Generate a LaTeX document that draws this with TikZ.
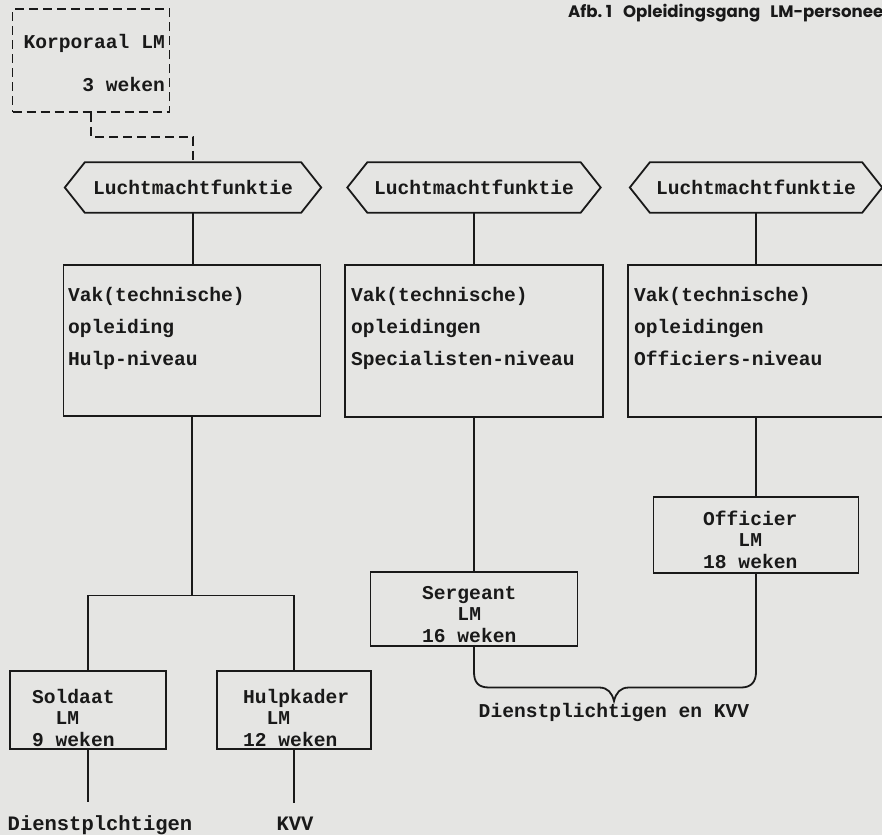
\documentclass[tikz,border=0pt]{standalone}
\usepackage{fontspec}
\newfontfamily\twfamily{Liberation Mono}
\newfontfamily\titlefamily{Poppins}
\usetikzlibrary{calc}
\definecolor{paper}{RGB}{229,229,227}
\definecolor{ink}{RGB}{25,25,25}
\begin{document}
\begin{tikzpicture}[x=1pt,y=-1pt,
  tw/.style={font=\twfamily\bfseries\fontsize{19.6}{32}\selectfont, inner sep=0pt, text=ink},
  tws/.style={font=\twfamily\bfseries\fontsize{19.6}{21.5}\selectfont, inner sep=0pt, text=ink, align=left, anchor=north west},
  twl/.style={font=\twfamily\bfseries\fontsize{20.5}{24}\selectfont, inner xsep=0pt, text=ink, anchor=base},
  frame/.style={draw=ink, line width=1.8pt, inner sep=0pt},
  conn/.style={draw=ink, line width=1.8pt},
  dashline/.style={dash pattern=on 9pt off 5pt},
  hexcore/.style={tw, minimum height=50},
]
\fill[paper] (0,0) rectangle (882,835);
\useasboundingbox (0,0) rectangle (882,835);

% title
\node[anchor=base west, inner sep=0pt, text=ink,
      font=\titlefamily\bfseries\fontsize{16.6}{20}\selectfont] (title) at (568,17)
  {Afb.~1\hspace{11pt}Opleidingsgang\hspace{10pt}LM-personee};

% Korporaal
\node[frame, dashline, minimum width=157, minimum height=103] (kbox) at (91,60.5) {};
\node[tw, align=right, anchor=north east] (ktext) at (165,34) {Korporaal LM\\[11pt]3 weken};

% hexagons
\node[hexcore, minimum width=216] (h1) at (193,187.5) {Luchtmachtfunktie};
\node[hexcore, minimum width=213] (h2) at (474,187.5) {Luchtmachtfunktie};
\node[hexcore, minimum width=212] (h3) at (756,187.5) {Luchtmachtfunktie};
\foreach \h in {h1,h2,h3}
  \draw[conn, line join=miter] (\h.north west) -- (\h.north east) -- ([xshift=20pt]\h.east)
     -- (\h.south east) -- (\h.south west) -- ([xshift=-20pt]\h.west) -- cycle;

% Vak boxes
\node[frame, minimum width=257, minimum height=151] (v1) at (192,340.5) {};
\node[frame, minimum width=258, minimum height=152] (v2) at (474,341) {};
\node[frame, minimum width=272, minimum height=152] (v3) at (764,341) {};
\node[tw, align=left, anchor=north west] (v1t) at (68,287) {Vak(technische)\\opleiding\\Hulp-niveau};
\node[tw, align=left, anchor=north west] (v2t) at (351,287) {Vak(technische)\\opleidingen\\Specialisten-niveau};
\node[tw, align=left, anchor=north west] (v3t) at (634,287) {Vak(technische)\\opleidingen\\Officiers-niveau};

% small boxes
\node[frame, minimum width=156, minimum height=78] (s1) at (88,710) {};
\node[frame, minimum width=154, minimum height=78] (s2) at (294,710) {};
\node[frame, minimum width=207, minimum height=74] (g) at (474,609) {};
\node[frame, minimum width=205, minimum height=76] (o) at (756,535) {};
\node[tws] (s1t) at (32,689) {Soldaat\\\phantom{xx}LM\\9 weken};
\node[tws] (s2t) at (243,689) {Hulpkader\\\phantom{xx}LM\\12 weken};
\node[tws] (gt) at (422,585.7) {Sergeant\\\phantom{xxx}LM\\16 weken};
\node[tws] (ot) at (703,510.7) {Officier\\\phantom{xxx}LM\\18 weken};

% bottom labels
\node[twl, inner ysep=13pt] (d1) at (100,830) {Dienstplchtigen};
\node[twl, inner ysep=13pt] (kvv) at (295,830) {KVV};
\node[tw, anchor=base, inner ysep=1.5pt] (dk) at (614,717) {Dienstplichtigen en KVV};

% connectors
\draw[conn, dashline] (kbox.south) -- ++(0,24) -| (h1.north);
\draw[conn] (h1.south) -- (h1.south |- v1.north);
\draw[conn] (h2.south) -- (h2.south |- v2.north);
\draw[conn] (h3.south) -- (h3.south |- v3.north);
\path (v1.south) ++(0,178.5) coordinate (j1);
\draw[conn] (v1.south) -- (j1);
\draw[conn] (s1.north) |- (j1) -| (s2.north);
\draw[conn] (v2.south) -- (v2.south |- g.north);
\draw[conn] (o.north |- v3.south) -- (o.north);
\draw[conn] (s1.south) -- (s1.south |- d1.north);
\draw[conn] (s2.south) -- (s2.south |- kvv.north);
\draw[conn] (g.south) -- (474,672) .. controls (474,682) and (478,687.5) .. (489,687.5)
  -- (599,687.5) .. controls (608,687.5) and (612,693) .. (dk.north)
  .. controls (616,693) and (620,687.5) .. (629,687.5)
  -- (741,687.5) .. controls (751,687.5) and (756,682) .. (756,672) -- (o.south);
\end{tikzpicture}
\end{document}
